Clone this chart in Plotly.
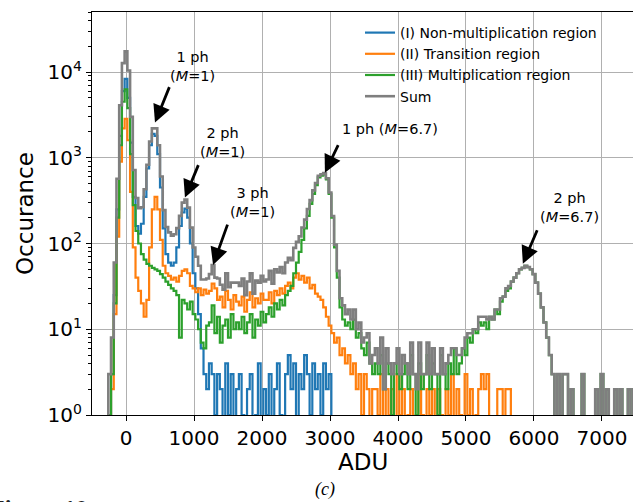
import numpy as np
import plotly.graph_objects as go

# Histogram bins: 40 ADU wide, first bin centred at -320 ADU
bin_width = 40
first_edge = -340

region_I = [
    0, 0, 1, 3, 25, 250, 1800, 6000, 8300, 5000,
    1500, 350, 160, 130, 170, 350, 750, 1400, 1900, 1800,
    1100, 450, 150, 75, 60, 55, 60, 90, 160, 230,
    255, 200, 100, 45, 30, 15, 6, 3, 2, 4,
    3, 1, 3, 2, 0, 4, 1, 3, 0, 2,
    3, 1, 0, 2, 3, 0, 1, 4, 0, 2,
    1, 3, 0, 2, 4, 1, 0, 3, 5, 2,
    4, 0, 3, 2, 5, 3, 1, 4, 2, 3,
    1, 4, 2, 3, 0, 0, 0, 0, 0, 0,
    0, 0, 0, 0, 0, 0, 0, 0, 0, 0,
    0, 0, 0, 0, 0, 0, 0, 0, 0, 0,
    0, 0, 0, 0, 0, 0, 0, 0, 0, 0,
    0, 0, 0, 0, 0, 0, 0, 0, 0, 0,
    0, 0, 0, 0, 0, 0, 0, 0, 0, 0,
    0, 0, 0, 0, 0, 0, 0, 0, 0, 0,
    0, 0, 0, 0, 0, 0, 0, 0, 0, 0,
    0, 0, 0, 0, 0, 0, 0, 0, 0, 0,
    0, 0, 0, 0, 0, 0, 0, 0, 0, 0,
    0, 0, 0, 0, 0, 0, 0, 0, 0, 0,
    0, 0, 0, 0, 0, 0,
]

region_II = [
    0, 0, 1, 2, 15, 120, 900, 2200, 2850, 1600,
    400, 90, 40, 28, 20, 14, 22, 90, 250, 350,
    250, 110, 55, 45, 42, 38, 40, 36, 42, 48,
    50, 45, 32, 30, 27, 30, 25, 29, 26, 28,
    34, 30, 22, 24, 18, 28, 22, 17, 25, 21,
    19, 24, 16, 22, 27, 18, 23, 20, 26, 22,
    22, 27, 20, 28, 25, 30, 26, 32, 35, 30,
    40, 45, 38, 42, 35, 40, 30, 33, 26, 24,
    22, 18, 14, 11, 9, 7, 8, 5, 6, 4,
    5, 3, 4, 2, 3, 1, 3, 2, 0, 2,
    2, 1, 3, 0, 2, 1, 2, 0, 3, 1,
    2, 0, 1, 2, 0, 1, 3, 1, 0, 2,
    1, 2, 0, 2, 1, 0, 2, 1, 3, 0,
    2, 1, 0, 3, 1, 2, 0, 1, 2, 3,
    2, 3, 0, 0, 0, 2, 2, 0, 2, 2,
    0, 0, 0, 0, 0, 0, 0, 0, 0, 0,
    0, 0, 0, 0, 0, 0, 0, 0, 0, 0,
    0, 0, 0, 0, 0, 0, 0, 0, 0, 0,
    0, 0, 0, 0, 0, 0, 0, 0, 0, 0,
    0, 0, 0, 0, 0, 0,
]

region_III = [
    0, 0, 1, 3, 20, 200, 1400, 4500, 6300, 3800,
    1100, 280, 140, 100, 75, 65, 58, 55, 52, 50,
    48, 44, 40, 36, 33, 30, 28, 25, 8, 22,
    20, 17, 21, 15, 13, 10, 7, 6, 11, 12,
    19, 9, 14, 7, 11, 13, 8, 15, 10, 12,
    10, 14, 9, 12, 15, 8, 13, 11, 16, 12,
    15, 18, 14, 20, 17, 22, 19, 25, 28, 32,
    45, 60, 80, 110, 150, 210, 290, 380, 480, 590,
    620, 640, 560, 380, 200, 90, 40, 18, 13, 11,
    12, 10, 13, 8, 9, 6, 5, 7, 4, 3,
    4, 3, 5, 2, 4, 3, 1, 4, 3, 2,
    3, 4, 2, 5, 3, 1, 4, 2, 3, 5,
    2, 4, 3, 1, 5, 3, 2, 4, 3, 6,
    3, 4, 6, 5, 8, 7, 10, 9, 12, 11,
    12, 10, 14, 13, 17, 15, 21, 24, 28, 30,
    36, 40, 45, 50, 52, 55, 53, 50, 44, 35,
    26, 18, 12, 8, 5, 3, 0, 3, 0, 3,
    3, 0, 2, 0, 0, 0, 3, 0, 0, 0,
    0, 2, 0, 3, 0, 2, 0, 0, 2, 0,
    2, 0, 0, 2, 0, 2,
]

series_names = ["(I) Non-multiplication region", "(II) Transition region",
                "(III) Multiplication region", "Sum"]
series_colors = ["#1f77b4", "#ff7f0e", "#2ca02c", "#7f7f7f"]

ytick_vals = [1, 10, 100, 1000, 10000]
ytick_text = ["10<sup>0</sup>", "10<sup>1</sup>", "10<sup>2</sup>", "10<sup>3</sup>", "10<sup>4</sup>"]
xtick_vals = [0, 1000, 2000, 3000, 4000, 5000, 6000, 7000]

# annotations: (label, arrow head x, arrow head y, tail dx px, tail dy px, text x, text y)
peak_labels = [
    ("1 ph<br>(<i>M</i>=1)", 426, 2570, 15, -37, 985, 11700),
    ("2 ph<br>(<i>M</i>=1)", 867, 343, 14, -34, 1426, 1510),
    ("3 ph<br>(<i>M</i>=1)", 1280, 56, 15, -42, 1867, 300),
    ("1 ph (<i>M</i>=6.7)", 2925, 670, 14, -29, 3881, 2160),
    ("2 ph<br>(<i>M</i>=6.7)", 5836, 58, 15, -35, 6527, 260),
]

blue = np.array(region_I, dtype=float)
orange = np.array(region_II, dtype=float)
green = np.array(region_III, dtype=float)
total = blue + orange + green

n = len(blue)
edges = first_edge + bin_width * np.arange(n + 1)

fig = go.Figure()
for vals, name, col, w in zip([blue, orange, green, total], series_names, series_colors,
                              [2.2, 2.2, 2.2, 2.6]):
    y = np.where(vals > 0, vals, 1e-3)
    y = np.append(y, y[-1])
    fig.add_trace(go.Scatter(x=edges, y=y, mode="lines", line=dict(color=col, width=w, shape="hv"),
                             name=name))

annos = []
for text, hx, hy, dx, dy, tx, ty in peak_labels:
    annos.append(dict(x=hx, y=np.log10(hy), xref="x", yref="y", text="", showarrow=True,
                      ax=dx, ay=dy, arrowhead=2, arrowsize=1.25, arrowwidth=2.8, arrowcolor="black"))
    annos.append(dict(x=tx, y=np.log10(ty), xref="x", yref="y", text=text, showarrow=False,
                      font=dict(family="DejaVu Sans", size=14.5, color="black"), align="center"))

L, R, T, B = 92, 633, 12, 415
def px_x(p):
    return (p - L) / (R - L)
def px_y(p):
    return (B - p) / (B - T)

annos += [
    dict(x=px_x(363), y=px_y(462), xref="paper", yref="paper", text="ADU", showarrow=False,
         font=dict(family="DejaVu Sans", size=23, color="black"), xanchor="center", yanchor="middle"),
    dict(x=px_x(25), y=px_y(214), xref="paper", yref="paper", text="Occurance", showarrow=False,
         textangle=-90, font=dict(family="DejaVu Sans", size=23, color="black"),
         xanchor="center", yanchor="middle"),
    dict(x=px_x(325), y=px_y(489), xref="paper", yref="paper", text="<i>(c)</i>", showarrow=False,
         font=dict(family="Liberation Serif", size=18, color="black"), xanchor="center", yanchor="middle"),
    dict(x=px_x(90), y=px_y(493), xref="paper", yref="paper", text="<b>Figure 10</b>", showarrow=False,
         font=dict(family="Liberation Serif", size=24, color="#222222"), xanchor="right", yanchor="top"),
]

fig.update_layout(
    width=633, height=502,
    margin=dict(l=L, r=0, t=T, b=502 - B, autoexpand=False),
    paper_bgcolor="white", plot_bgcolor="white",
    font=dict(family="DejaVu Sans", color="black"),
    showlegend=True,
    legend=dict(x=px_x(360), y=px_y(17), xanchor="left", yanchor="top",
                bgcolor="rgba(0,0,0,0)", font=dict(size=14, family="DejaVu Sans"),
                itemwidth=30, tracegroupgap=0),
    annotations=annos,
)
fig.update_xaxes(range=[-500, 7456], tickvals=xtick_vals, ticks="outside", ticklen=5,
                 tickcolor="black", tickfont=dict(size=20), showgrid=True, gridcolor="#b0b0b0",
                 gridwidth=1, showline=True, linecolor="black", linewidth=1.3, mirror=True,
                 zeroline=False, automargin=False)
fig.update_yaxes(type="log", range=[0, 4.70], tickvals=ytick_vals, ticktext=ytick_text,
                 ticks="outside", ticklen=5, tickcolor="black", tickfont=dict(size=20),
                 showgrid=True, gridcolor="#b0b0b0", gridwidth=1, showline=True,
                 linecolor="black", linewidth=1.3, zeroline=False, automargin=False,
                 minor=dict(ticks="outside", ticklen=3, tickcolor="black", dtick="D1", showgrid=False))

fig.write_html("out.html", config={"displayModeBar": False},
               post_script="document.body.style.margin='0px';")
